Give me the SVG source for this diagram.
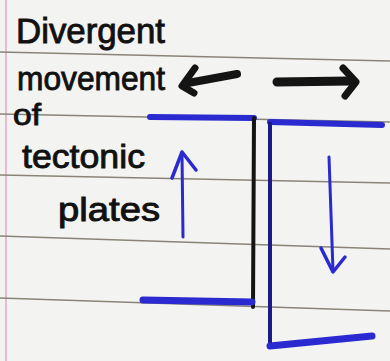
<svg xmlns="http://www.w3.org/2000/svg" width="390" height="361" viewBox="0 0 390 361">
<style>
.rule{stroke:#8a8478;stroke-width:1.6;fill:none}
.txt{font-family:"Liberation Sans","DejaVu Sans",sans-serif;fill:#111;stroke:#111;stroke-width:0.9}
.blue{stroke:#2a2ad0;fill:none;stroke-linecap:round;stroke-linejoin:round}
.blk{stroke:#141414;fill:none;stroke-linecap:round;stroke-linejoin:round}
</style>
<rect width="390" height="361" fill="#f3f3f1"/>
<g id="paper">
<line x1="6" y1="0" x2="6" y2="361" stroke="#e6a8c8" stroke-width="1.5"/>
<line class="rule" x1="0" y1="52" x2="390" y2="61"/>
<line class="rule" x1="0" y1="114" x2="390" y2="122"/>
<line class="rule" x1="0" y1="175" x2="390" y2="183"/>
<line class="rule" x1="0" y1="236" x2="390" y2="249"/>
<line class="rule" x1="0" y1="298" x2="390" y2="311"/>
</g>
<g id="labels">
<text class="txt" x="16" y="43" font-size="35" textLength="149" lengthAdjust="spacingAndGlyphs">Divergent</text>
<text class="txt" x="17" y="90" font-size="34" textLength="148" lengthAdjust="spacingAndGlyphs">movement</text>
<text class="txt" x="13" y="125" font-size="30" textLength="28" lengthAdjust="spacingAndGlyphs">of</text>
<text class="txt" x="22" y="168" font-size="34" textLength="123" lengthAdjust="spacingAndGlyphs">tectonic</text>
<text class="txt" x="58" y="221" font-size="33" textLength="102" lengthAdjust="spacingAndGlyphs">plates</text>
</g>
<g id="left-plate">
<path class="blue" d="M150 117 L254 118" stroke-width="6"/>
<path class="blk" d="M254 118 L253 307" stroke-width="4"/>
<path class="blue" d="M143 300 L252 302" stroke-width="7"/>
</g>
<g id="right-plate">
<path class="blue" d="M270 122 L382 125" stroke-width="6"/>
<path d="M270 122 L270 349" stroke="#1a1a8a" stroke-width="4" fill="none"/>
<path class="blue" d="M270 346 L372 336" stroke-width="7"/>
</g>
<g id="connectors">
<path class="blue" d="M183 237 L182 153" stroke-width="3"/>
<path class="blue" d="M172 178 L182 152 L196 170" stroke-width="3.5"/>
<path class="blue" d="M329 157 L333 271" stroke-width="3"/>
<path class="blue" d="M321 248 L333 272 L345 257" stroke-width="3.5"/>
<path class="blk" d="M237 74 L188 83" stroke-width="8"/>
<path class="blk" d="M195 68 L182 86 L194 93" stroke-width="7"/>
<path class="blk" d="M277 82 L350 81" stroke-width="9"/>
<path class="blk" d="M343 68 L356 82 L345 96" stroke-width="7"/>
</g>
</svg>
